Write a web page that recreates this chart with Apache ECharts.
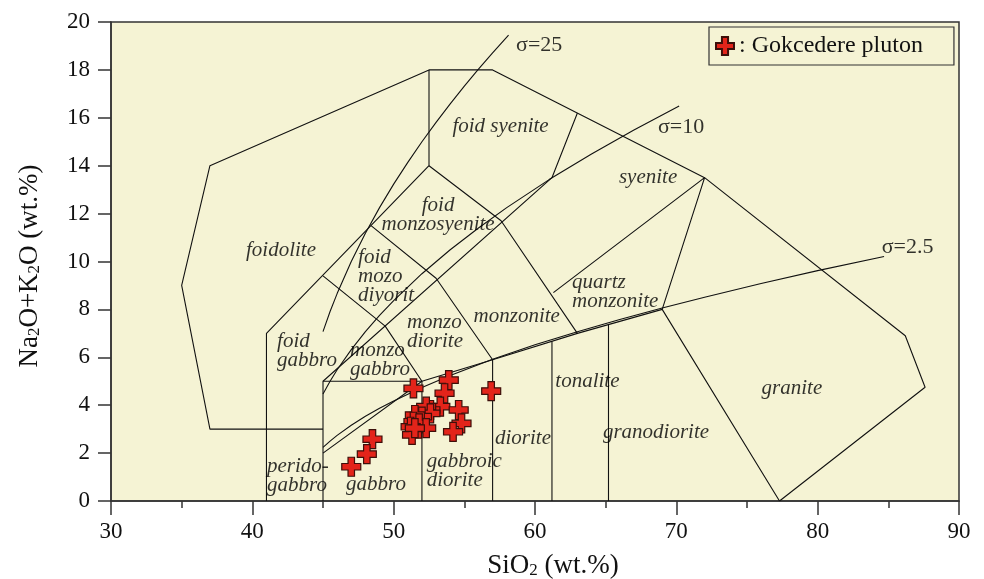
<!DOCTYPE html>
<html><head><meta charset="utf-8">
<script src="https://cdn.jsdelivr.net/npm/echarts/dist/echarts.min.js"></script>
<style>html,body{margin:0;padding:0;background:#fff}#c{width:984px;height:579px}</style>
</head><body><div id="c"></div>
<script>
// ---- data ----
const xTicks = [30, 40, 50, 60, 70, 80, 90];
const yTicks = [0, 2, 4, 6, 8, 10, 12, 14, 16, 18, 20];
const seriesName = 'Gokcedere pluton';
const sio2 = [51.4, 53.9, 53.6, 56.9, 53.3, 54.6, 54.8, 54.2, 52.6, 52.3, 52.6, 52.0, 51.5, 51.4, 51.8, 51.2, 52.3, 51.3, 51.5, 48.5, 48.1, 47.0];
const alkali = [4.70, 5.05, 4.50, 4.59, 3.94, 3.80, 3.24, 2.89, 3.80, 3.94, 3.66, 3.52, 3.59, 3.31, 3.24, 3.10, 3.04, 2.76, 3.04, 2.58, 1.96, 1.43];

// boundary lines (SiO2, Na2O+K2O)
const outerLine = [[45,3],[37,3],[35,9],[37,14],[52.5,18],[57,18],[72,13.5],[86.2,6.9],[87.6,4.75],[77.3,0]];
const foidLine = [[41,0],[41,7],[52.5,14],[52.5,18]];
const alkLine = [[45,0],[45,5],[61.2,13.5],[63,16.2]];
const monzoLine1 = [[45,9.4],[49.4,7.3],[52,5]];
const gabbroTop = [[45,5],[52,5],[52,0]];
const monzoLine2 = [[48.4,11.5],[53,9.3],[57,5.9],[57,0]];
const monzoLine3 = [[52.5,14],[57.6,11.7],[63,7]];
const syeniteLine = [[61.3,8.7],[72,13.5],[69,8],[77.3,0]];
const subalkLine = [[45,2],[52,5],[57,5.9],[63,7],[69,8]];
const tonaliteLine = [[61.2,0],[61.2,6.67]];
const granodioLine = [[65.2,0],[65.2,7.37]];
const sigma25 = [[45,7.07],[45.5,7.91],[46,8.66],[47,10],[48,11.18],[49,12.25],[50,13.23],[51,14.14],[52,15],[53,15.81],[54,16.58],[55,17.32],[56,18.03],[57,18.71],[58.13,19.45]];
const sigma10 = [[45,4.47],[45.5,5],[46,5.48],[47,6.32],[48,7.07],[49,7.75],[50,8.37],[52,9.49],[54,10.49],[56,11.4],[58,12.25],[61,13.42],[64,14.49],[67,15.49],[70.2,16.49]];
const sigma25b = [[45,2.24],[45.5,2.5],[46,2.74],[47,3.16],[48,3.54],[49,3.87],[50,4.18],[52,4.74],[54,5.24],[57,5.92],[60,6.52],[63,7.07],[66,7.58],[69,8.06],[72,8.51],[76,9.08],[80,9.62],[84.7,10.21]];

// field names and their anchor (SiO2, Na2O+K2O)
const fieldNames = ['foidolite','foid syenite','syenite','foid\nmonzosyenite','foid\nmozo\ndiyorit','foid\ngabbro','monzo\ngabbro','monzo\ndiorite','monzonite','quartz\nmonzonite','tonalite','diorite','gabbroic\ndiorite','gabbro','perido-\ngabbro','granodiorite','granite'];
const fieldPos = [[42.03,10.48],[57.56,15.62],[68.0,13.49],[53.14,11.94],[47.48,9.38],[41.75,6.26],[46.91,5.89],[50.94,7.04],[58.71,7.70],[62.62,8.71],[63.71,4.98],[59.15,2.62],[52.34,1.26],[48.75,0.67],[41.04,1.05],[68.56,2.84],[78.18,4.71]];
const fieldAlign = ['center','center','center','center','left','left','left','left','center','left','center','center','left','center','left','center','center'];
const sigmaNames = ['σ=25','σ=10','σ=2.5'];
const sigmaPos = [[58.66,19.01],[68.70,15.62],[84.53,10.59]];

// ---- chart ----
const SERIF = '"Liberation Serif","Times New Roman",serif';
const crossPath = 'path://M33,0H67V33H100V67H67V100H33V67H0V33H33Z';
const lineStyle = {color:'#111', width:1.1};
function bline(d){return {type:'line', data:d, symbol:'none', silent:true, lineStyle:lineStyle, z:2, animation:false};}

const series = [outerLine,foidLine,alkLine,monzoLine1,gabbroTop,monzoLine2,monzoLine3,syeniteLine,subalkLine,tonaliteLine,granodioLine,sigma25,sigma10,sigma25b].map(bline);

series.push({
  type:'scatter', silent:true, symbolSize:0, z:3, animation:false,
  data: fieldNames.map((n,i)=>({value:fieldPos[i], name:n, label:{align:fieldAlign[i]}})),
  label:{show:true, position:'inside', formatter:p=>p.name, fontFamily:SERIF, fontStyle:'italic', fontSize:21, lineHeight:19, color:'#000', textBorderWidth:0, verticalAlign:'middle'}
});
series.push({
  type:'scatter', silent:true, symbolSize:0, z:3, animation:false,
  data: sigmaNames.map((n,i)=>({value:sigmaPos[i], name:n})),
  label:{show:true, position:'inside', formatter:p=>p.name, fontFamily:SERIF, fontSize:22, color:'#000', textBorderWidth:0, align:'left', verticalAlign:'middle'}
});
series.push({
  type:'scatter', name:seriesName, z:5, animation:false,
  data: sio2.map((x,i)=>[x, alkali[i]]),
  symbol: crossPath, symbolSize:19,
  itemStyle:{color:'#E3241A', borderColor:'#3d0f0a', borderWidth:1.2, opacity:1}
});

const axisCol = '#333';
const option = {
  backgroundColor:'#ffffff',
  animation:false,
  grid:{left:111, right:25, top:22, bottom:78, show:true, backgroundColor:'#F5F3D4', borderColor:axisCol, borderWidth:1.5},
  xAxis:{type:'value', min:xTicks[0], max:xTicks[xTicks.length-1], interval:10,
    axisLine:{show:true, lineStyle:{color:axisCol, width:1.5}},
    axisTick:{show:true, inside:false, length:14, lineStyle:{color:axisCol, width:1.5}},
    minorTick:{show:true, splitNumber:2, length:7, lineStyle:{color:axisCol, width:1.5}},
    splitLine:{show:false},
    axisLabel:{fontFamily:SERIF, fontSize:23, color:'#111', margin:19}},
  yAxis:{type:'value', min:yTicks[0], max:yTicks[yTicks.length-1], interval:2,
    axisLine:{show:true, lineStyle:{color:axisCol, width:1.5}},
    axisTick:{show:true, inside:false, length:13, lineStyle:{color:axisCol, width:1.5}},
    splitLine:{show:false},
    axisLabel:{fontFamily:SERIF, fontSize:23, color:'#111', margin:21}},
  legend:{data:[seriesName], selectedMode:false, left:709, top:27, icon:crossPath, itemWidth:18, itemHeight:18,
    formatter:': {name}', textStyle:{fontFamily:SERIF, fontSize:24, color:'#111'},
    borderColor:'#333', borderWidth:1.2, backgroundColor:'#F5F3D4', padding:[7,31,7,6], borderRadius:0},
  graphic:[
    {type:'text', x:553, y:566, silent:true,
      style:{text:'SiO{s|2} (wt.%)', fontFamily:SERIF, fontSize:27, fill:'#111', align:'center', verticalAlign:'middle',
        rich:{s:{fontFamily:SERIF, fontSize:17, fill:'#111', verticalAlign:'bottom', lineHeight:14}}}},
    {type:'text', x:30, y:266, rotation:Math.PI/2, silent:true,
      style:{text:'Na{s|2}O+K{s|2}O (wt.%)', fontFamily:SERIF, fontSize:27, fill:'#111', align:'center', verticalAlign:'middle',
        rich:{s:{fontFamily:SERIF, fontSize:17, fill:'#111', verticalAlign:'bottom', lineHeight:14}}}}
  ],
  series: series
};
const chart = echarts.init(document.getElementById('c'), null, {renderer:'canvas'});
chart.setOption(option);
</script></body></html>
